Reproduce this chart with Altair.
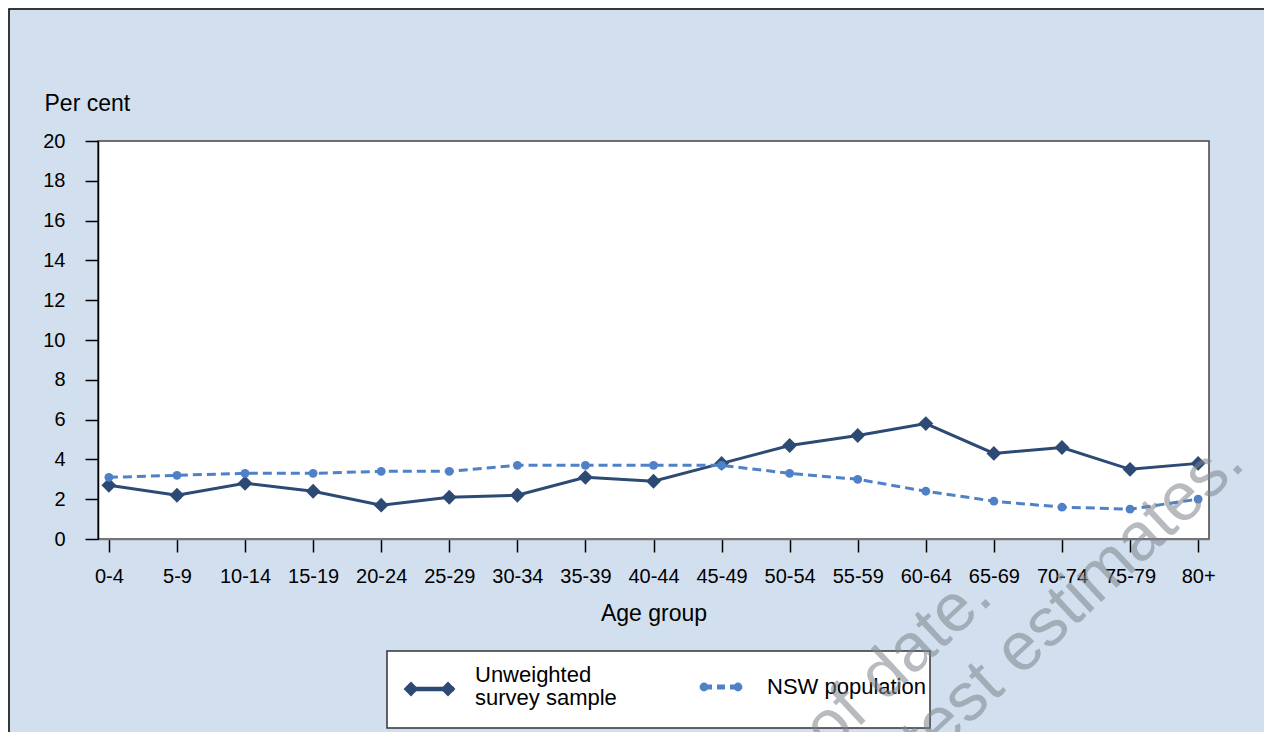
import altair as alt
import pandas as pd

age_groups = ["0-4", "5-9", "10-14", "15-19", "20-24", "25-29", "30-34", "35-39",
              "40-44", "45-49", "50-54", "55-59", "60-64", "65-69", "70-74", "75-79", "80+"]
survey_sample = [2.7, 2.2, 2.8, 2.4, 1.7, 2.1, 2.2, 3.1, 2.9, 3.8, 4.7, 5.2, 5.8, 4.3, 4.6, 3.5, 3.8]
nsw_population = [3.1, 3.2, 3.3, 3.3, 3.4, 3.4, 3.7, 3.7, 3.7, 3.7, 3.3, 3.0, 2.4, 1.9, 1.6, 1.5, 2.0]
y_ticks = [0, 2, 4, 6, 8, 10, 12, 14, 16, 18, 20]

series_names = ["Unweighted", "survey sample", "NSW population"]
watermark_lines = ["This is out of date.", "See latest estimates."]

DARK = "#2c4a74"
BLUE = "#4f81c7"
FONT = "Liberation Sans"
BG = "#d2dfee"

df = pd.DataFrame({"age": age_groups, "survey": survey_sample, "nsw": nsw_population})
one = pd.DataFrame({"k": [0]})

x_enc = alt.X(
    "age:N", sort=age_groups,
    scale=alt.Scale(type="point", padding=0.16),
    axis=alt.Axis(
        title="Age group", labelAngle=0, labelFontSize=20, labelFont=FONT, labelColor="black",
        tickSize=13, tickColor="black", tickWidth=1.5, labelPadding=14,
        domainColor="#777", domainWidth=1.5,
        titleFontSize=23, titleFont=FONT, titleFontWeight="normal", titleColor="black",
        titleY=74, titleBaseline="middle",
    ),
)


def y_enc(field):
    return alt.Y(
        f"{field}:Q",
        scale=alt.Scale(domain=[0, 20]),
        axis=alt.Axis(
            values=y_ticks, title="Per cent", titleAngle=0, titleX=-54, titleY=-38,
            titleAlign="left", titleBaseline="middle", titleFontSize=23, titleFont=FONT,
            titleFontWeight="normal", titleColor="black",
            labelFontSize=20, labelFont=FONT, labelColor="black", labelPadding=20,
            tickSize=13, tickColor="black", tickWidth=1.5,
            domainColor="black", domainWidth=1.5, grid=False,
        ),
    )


base = alt.Chart(df)
survey_line = base.mark_line(color=DARK, strokeWidth=3).encode(x=x_enc, y=y_enc("survey"))
survey_pts = base.mark_point(shape="diamond", filled=True, size=220, color=DARK, opacity=1).encode(
    x=x_enc, y=y_enc("survey"))
nsw_line = base.mark_line(color=BLUE, strokeWidth=3, strokeDash=[9, 5]).encode(x=x_enc, y=y_enc("nsw"))
nsw_pts = base.mark_point(shape="circle", filled=True, size=78, color=BLUE, opacity=1).encode(
    x=x_enc, y=y_enc("nsw"))

lg = alt.Chart(one)
legend_box = lg.mark_rect(fill="white", stroke="#333", strokeWidth=1.5).encode(
    x=alt.value(289), x2=alt.value(832), y=alt.value(510), y2=alt.value(587))
leg_dark_line = lg.mark_rule(color=DARK, strokeWidth=4.5).encode(
    x=alt.value(308), x2=alt.value(356), y=alt.value(548))
leg_dark_d1 = lg.mark_point(shape="diamond", filled=True, size=220, color=DARK, opacity=1).encode(
    x=alt.value(313), y=alt.value(548))
leg_dark_d2 = lg.mark_point(shape="diamond", filled=True, size=220, color=DARK, opacity=1).encode(
    x=alt.value(350), y=alt.value(548))
leg_t1 = lg.mark_text(align="left", baseline="middle", fontSize=22, font=FONT, color="black").encode(
    x=alt.value(377), y=alt.value(534), text=alt.value(series_names[0]))
leg_t2 = lg.mark_text(align="left", baseline="middle", fontSize=22, font=FONT, color="black").encode(
    x=alt.value(377), y=alt.value(557), text=alt.value(series_names[1]))
leg_blue_line = lg.mark_rule(color=BLUE, strokeWidth=5, strokeDash=[8, 5]).encode(
    x=alt.value(606), x2=alt.value(640), y=alt.value(546))
leg_blue_c1 = lg.mark_point(shape="circle", filled=True, size=78, color=BLUE, opacity=1).encode(
    x=alt.value(606), y=alt.value(546))
leg_blue_c2 = lg.mark_point(shape="circle", filled=True, size=78, color=BLUE, opacity=1).encode(
    x=alt.value(640), y=alt.value(546))
leg_t3 = lg.mark_text(align="left", baseline="middle", fontSize=22, font=FONT, color="black").encode(
    x=alt.value(669), y=alt.value(546), text=alt.value(series_names[2]))

wm1 = lg.mark_text(align="right", baseline="alphabetic", angle=317, fontSize=68, font=FONT,
                   color="#7d858d", opacity=0.55).encode(
    x=alt.value(897), y=alt.value(459), text=alt.value(watermark_lines[0]))
wm2 = lg.mark_text(align="right", baseline="alphabetic", angle=317, fontSize=68, font=FONT,
                   color="#7d858d", opacity=0.55).encode(
    x=alt.value(1149), y=alt.value(325), text=alt.value(watermark_lines[1]))

frame = lg.mark_rect(fill=None, stroke="black", strokeWidth=1.5).encode(
    x=alt.value(-89), x2=alt.value(1200), y=alt.value(-132), y2=alt.value(700))

chart = alt.layer(
    frame, survey_line, survey_pts, nsw_line, nsw_pts,
    legend_box, leg_dark_line, leg_dark_d1, leg_dark_d2, leg_t1, leg_t2,
    leg_blue_line, leg_blue_c1, leg_blue_c2, leg_t3, wm1, wm2,
).properties(
    width=1111, height=398,
    autosize=alt.AutoSizeParams(type="none"),
    padding={"left": 90, "top": 133, "right": 55, "bottom": 193},
    background=BG,
).configure_view(
    fill="white", stroke="#444", strokeWidth=1.5,
)

chart.save("out.html", embed_options={"renderer": "svg", "actions": False})
